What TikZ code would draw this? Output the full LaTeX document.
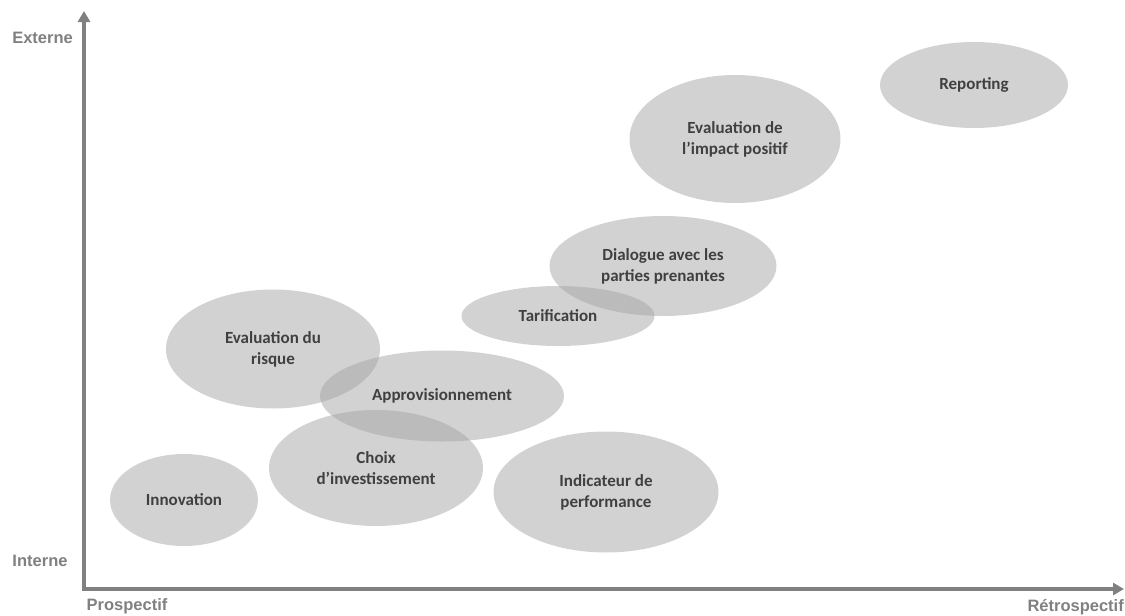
\documentclass[tikz,border=0pt]{standalone}
\usepackage{fontspec}
\setmainfont{Carlito}
\newfontfamily\axisfont{Liberation Sans}
\usetikzlibrary{positioning,shapes.geometric,arrows.meta}
\definecolor{BubbleGray}{RGB}{165,165,165}
\definecolor{TextGray}{RGB}{64,64,64}
\definecolor{AxisGray}{RGB}{128,128,128}

\begin{document}
\begin{tikzpicture}[
    x=1pt, y=-1pt,
    bubble/.style={ellipse, fill=BubbleGray, fill opacity=0.5, text opacity=1, inner sep=0pt, text=TextGray, align=center, font=\fontsize{17}{21}\selectfont\bfseries},
    axis/.style={draw=AxisGray, line width=3.5pt, -{Triangle[length=11pt,width=12pt]}},
    axislabel/.style={text=AxisGray, font=\axisfont\fontsize{16.5}{20}\selectfont\bfseries, inner sep=0pt}
]
\useasboundingbox (0,0) rectangle (1125,616);

% Axes
\coordinate (origin) at (84,589);
\coordinate (ytop) at (84,11);
\coordinate (xend) at (1124,589);
\draw [axis] ([yshift=-1.75pt]origin) -- (ytop);
\draw [axis] ([xshift=-1.75pt]origin) -- (xend);

\node [axislabel, anchor=east] (externe) at (73,38) {Externe};
\node [axislabel] (interne) at (40,561) {Interne};
\node [axislabel] (prospectif) at (127,606) {Prospectif};
\node [axislabel, anchor=east] (retro) at (1124,607) {Rétrospectif};

% Bubbles
\node [bubble, minimum width=188pt, minimum height=86pt] (reporting) at (974,85) {Reporting};
\node [bubble, minimum width=211pt, minimum height=128pt] (impact) at (735,139) {Evaluation de\\l’impact positif};
\node [bubble, minimum width=227pt, minimum height=100pt] (dialogue) at (663,266) {Dialogue avec les\\parties prenantes};
\node [bubble, minimum width=193pt, minimum height=60pt] (tarif) at (558,316) {Tarification};
\node [bubble, minimum width=214pt, minimum height=119pt] (risque) at (273,349) {Evaluation du\\risque};
\node [bubble, minimum width=244pt, minimum height=91pt] (appro) at (442,396) {Approvisionnement};
\node [bubble, minimum width=214pt, minimum height=116pt] (choix) at (376,468) {Choix\\d’investissement};
\node [bubble, minimum width=148pt, minimum height=92pt] (innovation) at (184,500) {Innovation};
\node [bubble, minimum width=225pt, minimum height=121pt] (indicateur) at (606,492) {Indicateur de\\performance};
\end{tikzpicture}
\end{document}
